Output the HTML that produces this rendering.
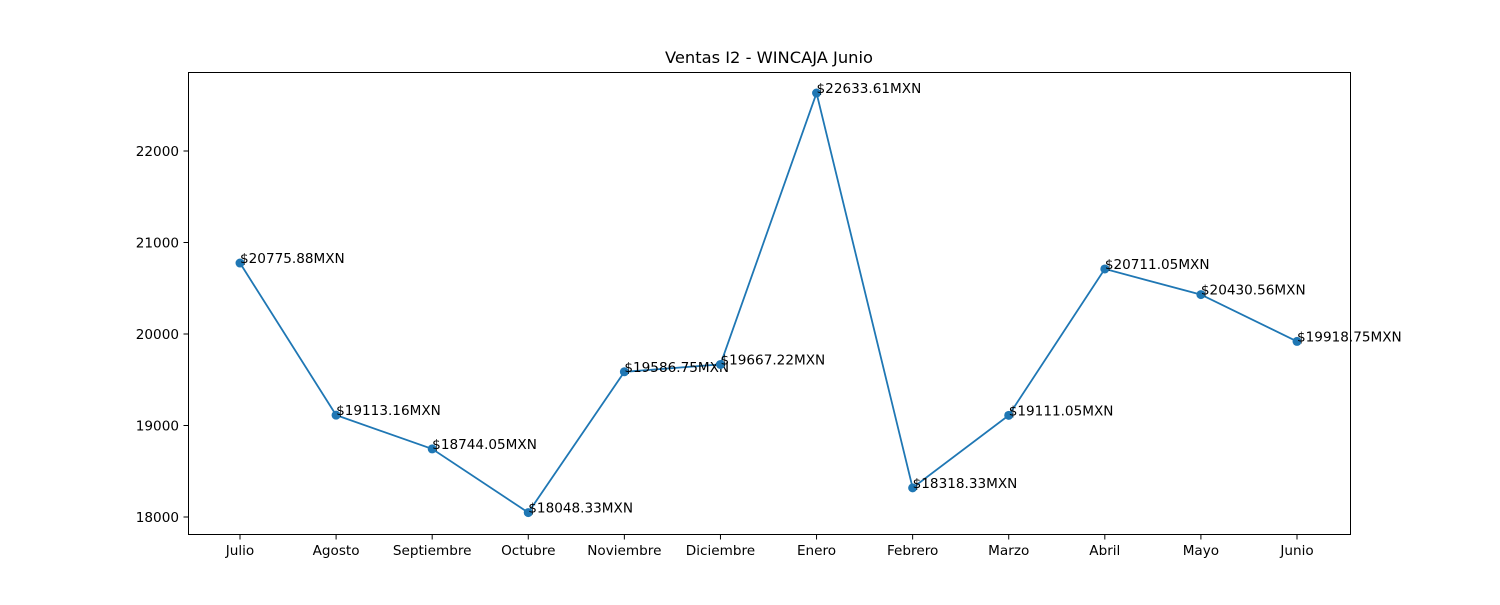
<!DOCTYPE html>
<html><head><meta charset="utf-8"><style>
body{margin:0;background:#fff;}
svg text{font-family:"DejaVu Sans","Liberation Sans",sans-serif;font-size:13.6px;fill:#000;}
</style></head><body>
<svg id="chart" width="1500" height="600" xmlns="http://www.w3.org/2000/svg">
<rect width="1500" height="600" fill="#fff"/>
<text x="769" y="63" text-anchor="middle" style="font-size:16.3px">Ventas I2 - WINCAJA Junio</text>
<g id="axes"></g>
<g id="series"></g>
<rect x="188.5" y="72.5" width="1162" height="462" fill="none" stroke="#000" stroke-width="1"/>
</svg>
<script>
const categories = ["Julio","Agosto","Septiembre","Octubre","Noviembre","Diciembre","Enero","Febrero","Marzo","Abril","Mayo","Junio"];
const values = [20775.88,19113.16,18744.05,18048.33,19586.75,19667.22,22633.61,18318.33,19111.05,20711.05,20430.56,19918.75];
const yTicks = [18000,19000,20000,21000,22000];

const NS = "http://www.w3.org/2000/svg";
const xPos = i => 240 + i * (1297 - 240) / (categories.length - 1);
const yPos = v => 517 - (v - 18000) * (517 - 151) / 4000;
const axes = document.getElementById('axes');
const series = document.getElementById('series');
function mk(tag, attrs, parent){const e=document.createElementNS(NS,tag);for(const k in attrs)e.setAttribute(k,attrs[k]);parent.appendChild(e);return e;}

yTicks.forEach(t=>{
  const y=yPos(t);
  const l=mk('line',{x1:183.5,x2:188.5,y1:y,y2:y,stroke:'#000'},axes);
  
  
  const tx=mk('text',{x:179,y:y+5,'text-anchor':'end'},axes);
  tx.textContent=t;
  
  
});
categories.forEach((c,i)=>{
  const x=xPos(i);
  const l=mk('line',{x1:x,x2:x,y1:534.5,y2:539.5,stroke:'#000'},axes);
  
  
  const tx=mk('text',{x:x,y:555,'text-anchor':'middle'},axes);
  tx.textContent=c;
  
  
});
const pts=values.map((v,i)=>xPos(i)+','+yPos(v)).join(' ');
const line=mk('polyline',{points:pts,fill:'none',stroke:'#1f77b4','stroke-width':1.8},series);


values.forEach((v,i)=>{
  const c=mk('circle',{cx:xPos(i),cy:yPos(v),r:4.5,fill:'#1f77b4'},series);
  
  
  const t=mk('text',{x:xPos(i),y:yPos(v)},series);
  t.textContent='$'+v.toFixed(2)+'MXN';
  
  
});
</script>
</body></html>
